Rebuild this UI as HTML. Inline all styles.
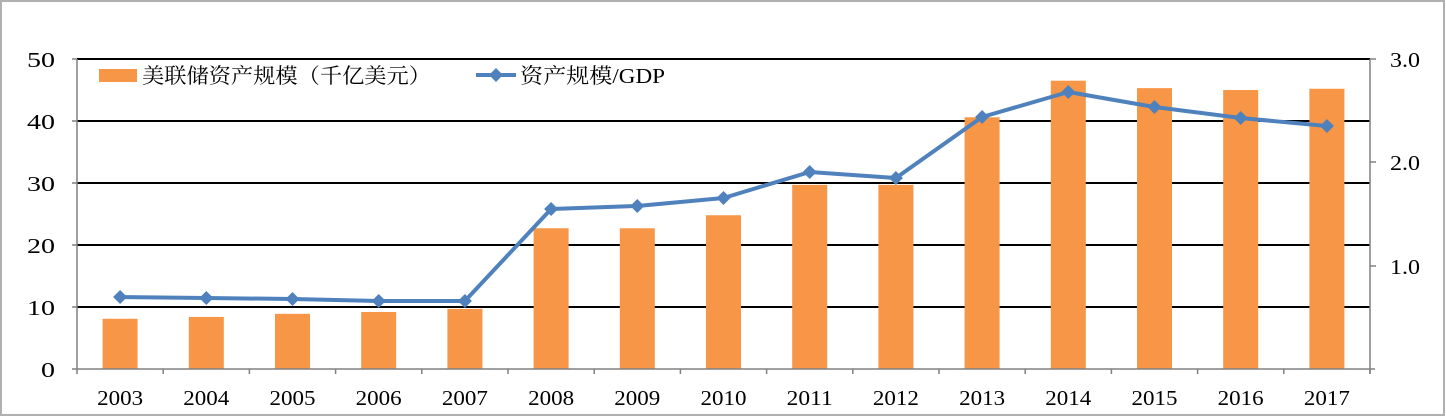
<!DOCTYPE html>
<html><head><meta charset="utf-8"><style>body{margin:0;background:#fff}svg{display:block}</style></head><body>
<svg width="1446" height="417" xmlns="http://www.w3.org/2000/svg" font-family="'Liberation Serif','Noto Serif CJK SC',serif">
<rect x="1" y="1" width="1443" height="414" fill="#fff" stroke="#b0b0b0" stroke-width="2"/>
<g stroke="#000" stroke-width="2">
<line x1="77" y1="59" x2="1370" y2="59"/><line x1="77" y1="121" x2="1370" y2="121"/><line x1="77" y1="183" x2="1370" y2="183"/><line x1="77" y1="245" x2="1370" y2="245"/><line x1="77" y1="307" x2="1370" y2="307"/>
</g>
<g fill="#f79646" id="bars"></g>
<g stroke="#808080" stroke-width="1.5" id="axes">
<line x1="77" y1="59" x2="77" y2="374"/><line x1="1370" y1="59" x2="1370" y2="374"/><line x1="72" y1="369" x2="1375" y2="369"/>
<line x1="72" y1="59" x2="77" y2="59"/><line x1="72" y1="121" x2="77" y2="121"/><line x1="72" y1="183" x2="77" y2="183"/><line x1="72" y1="245" x2="77" y2="245"/><line x1="72" y1="307" x2="77" y2="307"/>
<line x1="1370" y1="59" x2="1376" y2="59"/><line x1="1370" y1="162" x2="1376" y2="162"/><line x1="1370" y1="266" x2="1376" y2="266"/>
</g>
<g font-size="21" lengthAdjust="spacingAndGlyphs">
<text x="27" y="67" textLength="28" lengthAdjust="spacingAndGlyphs">50</text><text x="27" y="129" textLength="28" lengthAdjust="spacingAndGlyphs">40</text><text x="27" y="191" textLength="28" lengthAdjust="spacingAndGlyphs">30</text><text x="27" y="253" textLength="28" lengthAdjust="spacingAndGlyphs">20</text><text x="27" y="315" textLength="28" lengthAdjust="spacingAndGlyphs">10</text><text x="41" y="377" textLength="14" lengthAdjust="spacingAndGlyphs">0</text>
<text x="1390" y="67" textLength="30" lengthAdjust="spacingAndGlyphs">3.0</text><text x="1390" y="170" textLength="30" lengthAdjust="spacingAndGlyphs">2.0</text><text x="1390" y="274" textLength="30" lengthAdjust="spacingAndGlyphs">1.0</text>
</g>
<g font-size="21" id="xl"></g>
<polyline id="ln" fill="none" stroke="#4f81bd" stroke-width="4" stroke-linejoin="round"/>
<g fill="#4f81bd" id="mk"></g>
<rect x="99" y="69" width="38" height="13" fill="#f79646"/>
<text x="142" y="83" font-size="21" textLength="289" lengthAdjust="spacingAndGlyphs">美联储资产规模（千亿美元）</text>
<line x1="476" y1="75" x2="516" y2="75" stroke="#4f81bd" stroke-width="4"/>
<path d="M496 68 L503 75 L496 82 L489 75Z" fill="#4f81bd"/>
<text x="520" y="83" font-size="21" textLength="145" lengthAdjust="spacingAndGlyphs">资产规模/GDP</text>
<script>
var b=[8.1,8.4,8.9,9.2,9.7,22.7,22.7,24.8,29.7,29.7,40.6,46.5,45.3,45,45.2];
var l=[297,298,299,301,301,209,206,198,172,178,117,92,107,118,126];
var ns="http://www.w3.org/2000/svg",w=(1370-77)/15,pts=[];
for(var i=0;i<15;i++){var c=77+w*(i+.5),h=b[i]*6.2;
var r=document.createElementNS(ns,"rect");r.setAttribute("x",c-17.5);r.setAttribute("y",369-h);r.setAttribute("width",35);r.setAttribute("height",h);document.getElementById("bars").appendChild(r);
var t=document.createElementNS(ns,"text");t.setAttribute("x",c-23);t.setAttribute("y",405);t.setAttribute("textLength",46);t.setAttribute("lengthAdjust","spacingAndGlyphs");t.textContent=2003+i;document.getElementById("xl").appendChild(t);
var k=document.createElementNS(ns,"line");k.setAttribute("x1",77+w*(i+1));k.setAttribute("x2",77+w*(i+1));k.setAttribute("y1",369);k.setAttribute("y2",374);document.getElementById("axes").appendChild(k);
pts.push(c+","+l[i]);
var p=document.createElementNS(ns,"path");p.setAttribute("d","M"+c+" "+(l[i]-7)+" L"+(c+7)+" "+l[i]+" L"+c+" "+(l[i]+7)+" L"+(c-7)+" "+l[i]+"Z");document.getElementById("mk").appendChild(p);}
document.getElementById("ln").setAttribute("points",pts.join(" "));
</script>
</svg>
</body></html>
